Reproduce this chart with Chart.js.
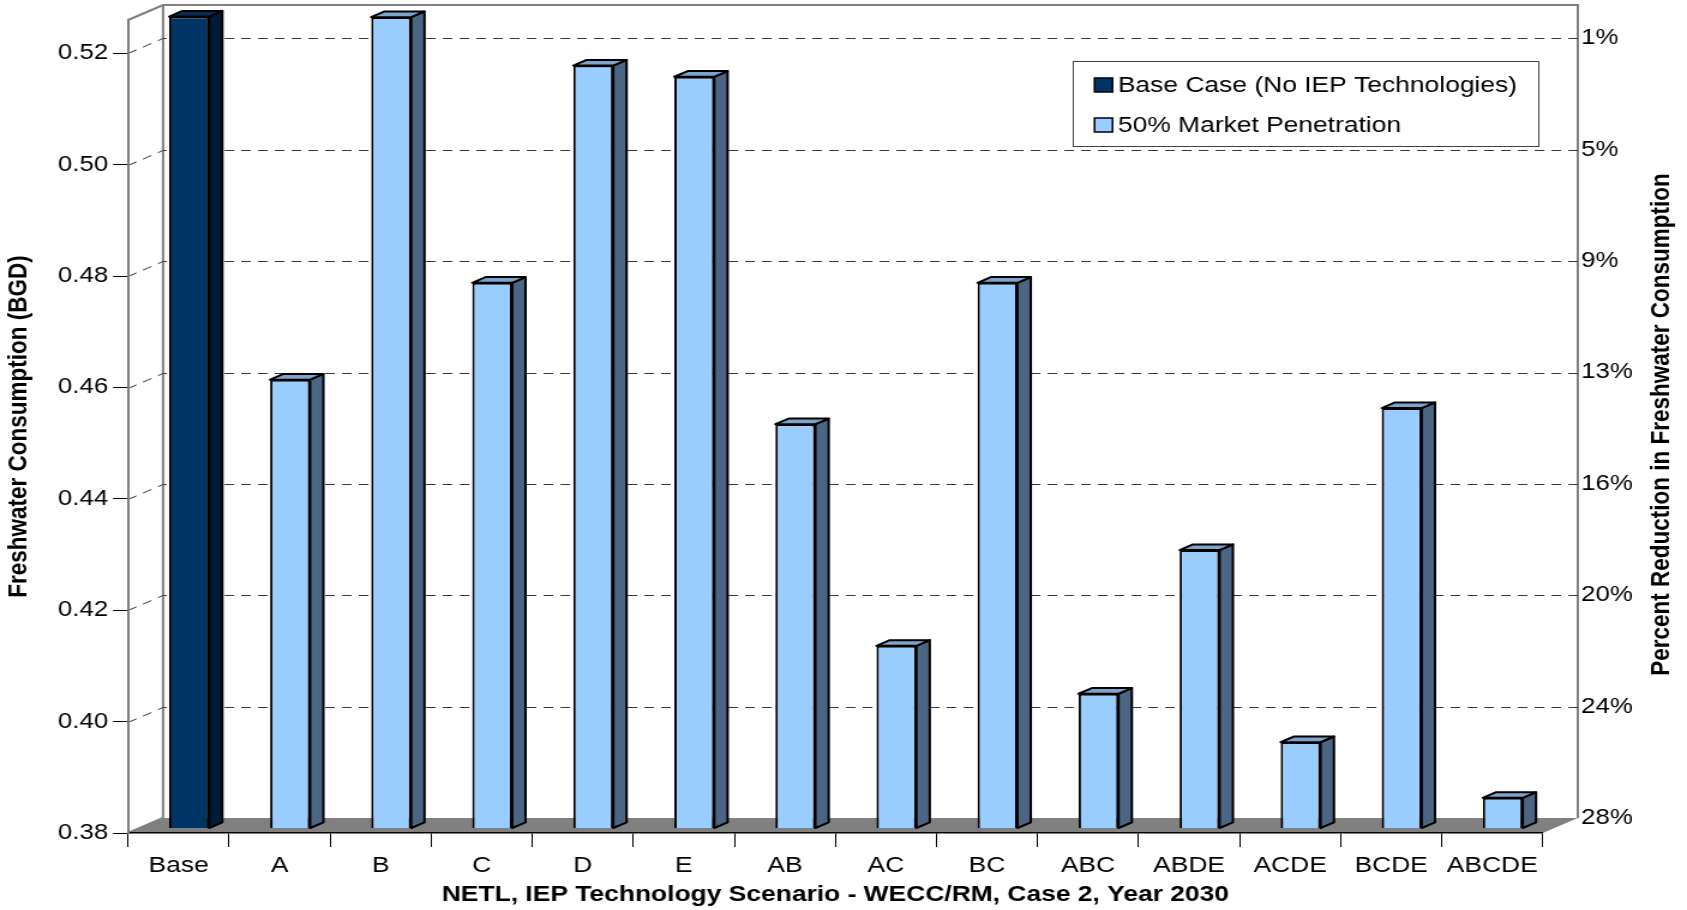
<!DOCTYPE html>
<html><head><meta charset="utf-8">
<script src="https://cdn.jsdelivr.net/npm/chart.js@4.4.0/dist/chart.umd.min.js"></script>
<style>
html,body{margin:0;padding:0;background:#fff;overflow:hidden;}
#wrap{position:absolute;left:0;top:0;width:1406px;height:910px;transform:scaleX(1.19986);transform-origin:0 0;}
</style></head><body>
<div id="wrap"><canvas id="c" width="1406" height="910"></canvas></div>
<script>
const categories = ['Base','A','B','C','D','E','AB','AC','BC','ABC','ABDE','ACDE','BCDE','ABCDE'];
const baseCaseValues = [0.5258,null,null,null,null,null,null,null,null,null,null,null,null,null];
const marketValues = [null,0.4606,0.5257,0.478,0.517,0.515,0.4526,0.4128,0.478,0.4042,0.430,0.3955,0.4555,0.3855];
const leftTickValues = [0.38,0.40,0.42,0.44,0.46,0.48,0.50,0.52];
const rightTickLabels = ['28%','24%','20%','16%','13%','9%','5%','1%'];
const seriesNames = ['Base Case (No IEP Technologies)','50% Market Penetration'];
const axisTitles = {
  x: 'NETL, IEP Technology Scenario - WECC/RM, Case 2, Year 2030',
  y: 'Freshwater Consumption (BGD)',
  y2: 'Percent Reduction in Freshwater Consumption'
};
const yMin = 0.38, yMax = 0.526;

const FONT = "'Liberation Sans', Arial, Helvetica, sans-serif";
Chart.defaults.font.family = FONT;
Chart.defaults.color = '#000';

const G = {dx: 29.2, dy: 15, f1: 0.3, f2: 0.68};

const threeD = {
  id: 'threeD',
  beforeDraw(chart) {
    const {ctx, chartArea: {left, right, top, bottom}} = chart;
    const y = chart.scales.y;
    ctx.save();
    ctx.fillStyle = '#fff';
    ctx.fillRect(0, 0, chart.width, chart.height);
    // floor
    ctx.fillStyle = '#808080';
    ctx.beginPath();
    ctx.moveTo(left, bottom); ctx.lineTo(right, bottom);
    ctx.lineTo(right + G.dx, bottom - G.dy); ctx.lineTo(left + G.dx, bottom - G.dy);
    ctx.closePath(); ctx.fill();
    // walls
    ctx.strokeStyle = '#808080'; ctx.lineWidth = 2;
    ctx.beginPath();
    ctx.moveTo(left, top); ctx.lineTo(left + G.dx, top - G.dy);
    ctx.lineTo(right + G.dx, top - G.dy); ctx.lineTo(right + G.dx, bottom - G.dy);
    ctx.moveTo(left + G.dx, top - G.dy); ctx.lineTo(left + G.dx, bottom - G.dy);
    ctx.moveTo(left, bottom); ctx.lineTo(left + G.dx, bottom - G.dy);
    ctx.stroke();
    // gridlines
    ctx.setLineDash([8, 6]); ctx.lineWidth = 1; ctx.strokeStyle = '#383838';
    leftTickValues.forEach(v => {
      if (v <= y.min) return;
      const py = Math.round(y.getPixelForValue(v)) + 0.5;
      ctx.beginPath();
      ctx.moveTo(left, py); ctx.lineTo(left + G.dx, py - G.dy); ctx.lineTo(right + G.dx, py - G.dy);
      ctx.stroke();
    });
    ctx.restore();
  },
  beforeDatasetsDraw(chart) {
    const ctx = chart.ctx;
    ctx.save();
    ctx.translate(G.dx * G.f1, -G.dy * G.f1);
  },
  afterDatasetsDraw(chart) {
    const ctx = chart.ctx;
    ctx.restore();
    const ox = G.dx * G.f1, oy = -G.dy * G.f1;
    const ddx = G.dx * (G.f2 - G.f1), ddy = -G.dy * (G.f2 - G.f1);
    chart.data.datasets.forEach((ds, di) => {
      const meta = chart.getDatasetMeta(di);
      meta.data.forEach((el, i) => {
        if (ds.data[i] == null) return;
        const {x, y, base, width} = el.getProps(['x', 'y', 'base', 'width'], true);
        const l = x - width / 2 + ox, r = x + width / 2 + ox, t = y + oy, b = base + oy;
        ctx.save();
        ctx.lineWidth = 2; ctx.strokeStyle = '#000'; ctx.lineJoin = 'round';
        ctx.beginPath();
        ctx.moveTo(r, t); ctx.lineTo(r + ddx, t + ddy); ctx.lineTo(r + ddx, b + ddy); ctx.lineTo(r, b);
        ctx.closePath(); ctx.fillStyle = ds.sideColor; ctx.fill(); ctx.stroke();
        ctx.beginPath();
        ctx.moveTo(l, t); ctx.lineTo(l + ddx, t + ddy); ctx.lineTo(r + ddx, t + ddy); ctx.lineTo(r, t);
        ctx.closePath(); ctx.fillStyle = ds.topColor; ctx.fill(); ctx.stroke();
        ctx.restore();
      });
    });
  },
  afterDraw(chart) {
    const ctx = chart.ctx;
    const ca = chart.chartArea;
    // right axis title (reads bottom to top)
    ctx.save();
    ctx.translate(1385, (ca.top + ca.bottom) / 2 - 2);
    ctx.rotate(-Math.PI / 2);
    ctx.font = 'bold 22.5px ' + FONT; ctx.fillStyle = '#000';
    ctx.textAlign = 'center'; ctx.textBaseline = 'middle';
    ctx.fillText(axisTitles.y2, 0, 0);
    ctx.restore();
    // legend
    const bx = ca.right - 391.6, by = 61, bw = 388.3, bh = 85;
    ctx.save();
    ctx.fillStyle = '#fff'; ctx.fillRect(bx, by, bw, bh);
    ctx.strokeStyle = '#404040'; ctx.lineWidth = 1;
    ctx.strokeRect(Math.round(bx) + 0.5, by + 0.5, Math.round(bw), bh);
    const rows = [by + 24, by + 64];
    ctx.font = '22px ' + FONT; ctx.textBaseline = 'middle'; ctx.textAlign = 'left';
    chart.data.datasets.forEach((ds, i) => {
      const my = rows[i];
      ctx.fillStyle = ds.backgroundColor;
      ctx.fillRect(bx + 18, my - 7, 15, 14);
      ctx.strokeStyle = '#000'; ctx.lineWidth = 1.5;
      ctx.strokeRect(bx + 18, my - 7, 15, 14);
      ctx.fillStyle = '#000';
      ctx.fillText(ds.label, bx + 37.5, my + 1);
    });
    ctx.restore();
  }
};

const chart = new Chart(document.getElementById('c'), {
  type: 'bar',
  data: {
    labels: categories,
    datasets: [
      {label: seriesNames[0], data: baseCaseValues, backgroundColor: '#003366', sideColor: '#001c38', topColor: '#0b2c54',
       borderColor: '#000', borderWidth: 2, grouped: false, barPercentage: 0.3955, categoryPercentage: 1, clip: false, base: yMin, yAxisID: 'y'},
      {label: seriesNames[1], data: marketValues, backgroundColor: '#99ccff', sideColor: '#4d6584', topColor: '#7ea3cc',
       borderColor: '#000', borderWidth: 2, grouped: false, barPercentage: 0.3955, categoryPercentage: 1, clip: false, base: yMin, yAxisID: 'y'}
    ]
  },
  options: {
    responsive: false,
    animation: false,
    devicePixelRatio: 1,
    layout: {padding: {top: 20, left: 0, right: 0, bottom: 0}},
    plugins: {legend: {display: false}, tooltip: {enabled: false}},
    scales: {
      x: {
        type: 'category', offset: true,
        grid: {display: true, offset: true, drawOnChartArea: false, drawTicks: true, tickLength: 14, color: '#000', lineWidth: 1},
        border: {display: true, color: '#000', width: 1.5},
        ticks: {font: {size: 22}, color: '#000', padding: 6, maxRotation: 0, autoSkip: false},
        title: {display: true, text: axisTitles.x, font: {size: 22, weight: 'bold'}, color: '#000', padding: {top: 0, bottom: 2}},
        afterFit: s => { s.height = 77; }
      },
      y: {
        type: 'linear', position: 'left', min: yMin, max: yMax,
        afterBuildTicks: s => { s.ticks = leftTickValues.map(v => ({value: v})); },
        ticks: {callback: v => Number(v).toFixed(2), font: {size: 21.5}, color: '#000', padding: 4},
        grid: {drawOnChartArea: false, drawTicks: true, tickLength: 12.5, color: '#000'},
        border: {display: true, color: '#808080', width: 2},
        title: {display: true, text: axisTitles.y, font: {size: 22.5, weight: 'bold'}, color: '#000', padding: {top: 2.4, bottom: 0}},
        afterFit: s => { s.width = 106.7; }
      },
      y2: {
        type: 'linear', position: 'right', min: yMin, max: yMax,
        afterBuildTicks: s => { s.ticks = leftTickValues.map(v => ({value: v})); },
        ticks: {callback: (v, i) => rightTickLabels[i], font: {size: 21.5}, color: '#000', padding: 0, labelOffset: -15},
        grid: {display: true, drawOnChartArea: false, drawTicks: true, tickLength: 32, color: 'rgba(0,0,0,0)'},
        border: {display: false},
        title: {display: false},
        afterFit: s => { s.width = 120.2; }
      }
    }
  },
  plugins: [threeD]
});
</script>
</body></html>
